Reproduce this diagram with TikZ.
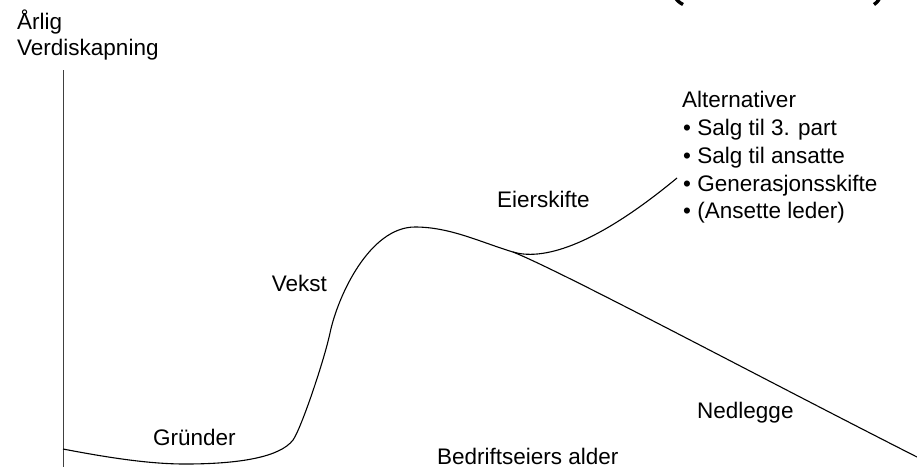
\documentclass[tikz,border=0pt]{standalone}
\usepackage{fontspec}
\setmainfont{Liberation Sans}
\begin{document}
\begin{tikzpicture}[x=1pt,y=-1pt,
  lbl/.style={anchor=base west,inner sep=0pt,font=\fontsize{22.5}{28}\selectfont},
  curve/.style={line width=1.1pt,black},
  axisline/.style={line width=1pt,black!75}]
\useasboundingbox (0,0) rectangle (917,467);
\fill[white] (0,0) rectangle (917,467);

% vertical value axis
\coordinate (axtop) at (63,70);
\coordinate (axbot) at (63,467);
\draw[axisline] (axtop) -- (axbot);

% key points of the life-cycle curve
\coordinate (start) at (63,449);
\coordinate (low) at (185,464);
\coordinate (rise) at (293,440);
\coordinate (steep) at (330,333);
\coordinate (peak) at (415,227);
\coordinate (fork) at (513,252);
\coordinate (fall) at (917,457);
\coordinate (succ) at (677,178);

\draw[curve] (start) .. controls (110,458) and (150,464) .. (low)
  .. controls (240,464) and (280,457) .. (rise)
  .. controls (301,429) and (324,361) .. (steep)
  .. controls (338,295) and (370,227) .. (peak)
  .. controls (450,227) and (480,242) .. (fork)
  .. controls (563,272) and (767,381) .. (fall);
\draw[curve] (fork) .. controls (540,260) and (590,250) .. (succ);

% labels
\node[lbl] (aarlig) at (17,29) {Årlig};
\node[lbl] (verdi) at (17,55) {Verdiskapning};
\node[lbl] (grunder) at (153,445) {Gründer};
\node[lbl,anchor=base east] (vekst) at (327,291) {Vekst};
\node[lbl] (eier) at (497,207) {Eierskifte};
\node[lbl] (ned) at (697,418) {Nedlegge};
\node[lbl] (alder) at (437,464) {Bedriftseiers alder};
\node[lbl] (alt) at (682,107) {Alternativer};
\node[lbl] (alt1) at (683,135) {• Salg til 3. part};
\node[lbl] (alt2) at (683,163) {• Salg til ansatte};
\node[lbl] (alt3) at (683,191) {• Generasjonsskifte};
\node[lbl] (alt4) at (683,218) {• (Ansette leder)};

% lower tips of the large brackets at the top edge
\draw[line width=3.4pt,line cap=butt] (674,-4) .. controls (676,-1) and (678,2) .. (683,4.5);
\draw[line width=3.4pt,line cap=butt] (881,-4) .. controls (879,-1) and (878,2) .. (874,4.5);
\end{tikzpicture}
\end{document}
